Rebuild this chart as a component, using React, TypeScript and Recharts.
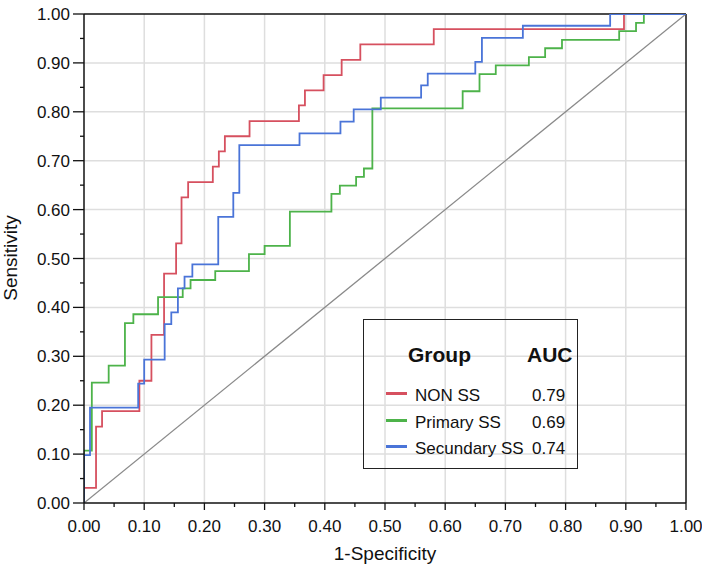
import React from 'react';
import { LineChart, Line, XAxis, YAxis, ReferenceLine } from 'recharts';

// ROC points: x = 1-specificity, y = sensitivity (corner points of each step)
const nonSsFpr = [0, 0, 0.02, 0.03, 0.092, 0.112, 0.133, 0.153, 0.162, 0.173, 0.214, 0.224, 0.234, 0.275, 0.357, 0.367, 0.398, 0.428, 0.459, 0.581, 0.897, 1];
const nonSsTpr = [0, 0.031, 0.156, 0.188, 0.25, 0.344, 0.469, 0.531, 0.625, 0.656, 0.688, 0.719, 0.75, 0.781, 0.813, 0.844, 0.875, 0.906, 0.938, 0.969, 1, 1];

const primaryFpr = [0, 0, 0.013, 0.041, 0.068, 0.082, 0.123, 0.164, 0.177, 0.218, 0.274, 0.3, 0.342, 0.411, 0.425, 0.452, 0.465, 0.479, 0.629, 0.657, 0.684, 0.739, 0.766, 0.794, 0.889, 0.917, 0.93, 1];
const primaryTpr = [0, 0.107, 0.246, 0.281, 0.368, 0.386, 0.421, 0.439, 0.456, 0.474, 0.509, 0.526, 0.596, 0.632, 0.649, 0.667, 0.684, 0.807, 0.842, 0.877, 0.895, 0.912, 0.93, 0.947, 0.965, 0.982, 1, 1];

const secundaryFpr = [0, 0, 0.01, 0.09, 0.1, 0.134, 0.145, 0.156, 0.167, 0.18, 0.223, 0.248, 0.258, 0.358, 0.426, 0.448, 0.493, 0.56, 0.571, 0.65, 0.661, 0.729, 0.874, 1];
const secundaryTpr = [0, 0.098, 0.195, 0.244, 0.293, 0.366, 0.39, 0.439, 0.463, 0.488, 0.585, 0.634, 0.732, 0.756, 0.78, 0.805, 0.829, 0.854, 0.878, 0.902, 0.951, 0.976, 1, 1];

// chance line
const refFpr = [0, 1];
const refTpr = [0, 1];

const groups = ['NON SS', 'Primary SS', 'Secundary SS'];
const aucValues = ['0.79', '0.69', '0.74'];
const colors = ['#d6505f', '#4db34a', '#4a74d8'];

// ticks every 0.05, labels on every 0.10
const tickValues = Array.from({ length: 21 }, (_, i) => i / 20);
const gridValues = Array.from({ length: 9 }, (_, i) => (i + 1) / 10);

const FONT = '"Liberation Sans", Arial, sans-serif';

const toPoints = (xs: number[], ys: number[]) => xs.map((x, i) => ({ x, y: ys[i] }));

const isMajor = (v: number) => Math.round(v * 20) % 2 === 0;

const XTick = ({ x, y, payload }: any) => {
  const major = isMajor(payload.value);
  return (
    <g>
      <line x1={x} x2={x} y1={y} y2={y + (major ? 7 : 4)} stroke="#111" strokeWidth={1.3} />
      {major && (
        <text x={x} y={y + 29} textAnchor="middle" fontSize={17} fill="#111" fontFamily={FONT}>
          {payload.value.toFixed(2)}
        </text>
      )}
    </g>
  );
};

const YTick = ({ x, y, payload }: any) => {
  const major = isMajor(payload.value);
  return (
    <g>
      <line x1={x - (major ? 11 : 4)} x2={x} y1={y} y2={y} stroke="#111" strokeWidth={1.3} />
      {major && (
        <text x={x - 14} y={y + 6} textAnchor="end" fontSize={17} fill="#111" fontFamily={FONT}>
          {payload.value.toFixed(2)}
        </text>
      )}
    </g>
  );
};

function RocLegend() {
  return (
    <div
      style={{
        position: 'absolute',
        left: 363,
        top: 319,
        width: 215,
        height: 150,
        border: '1.5px solid #222',
        boxSizing: 'border-box',
        fontFamily: FONT,
        color: '#111',
        lineHeight: 1,
      }}
    >
      <div style={{ position: 'absolute', left: 44, top: 24, fontSize: 21, fontWeight: 'bold' }}>Group</div>
      <div style={{ position: 'absolute', left: 163, top: 24, fontSize: 21, fontWeight: 'bold' }}>AUC</div>
      {groups.map((g, i) => (
        <div key={g} style={{ position: 'absolute', left: 0, top: 67 + i * 26.5, width: '100%', height: 18 }}>
          <div style={{ position: 'absolute', left: 22, top: 5, width: 21, height: 3, background: colors[i] }} />
          <div style={{ position: 'absolute', left: 51, top: 0, fontSize: 17, whiteSpace: 'nowrap' }}>{g}</div>
          <div style={{ position: 'absolute', left: 168, top: 0, fontSize: 17 }}>{aucValues[i]}</div>
        </div>
      ))}
    </div>
  );
}

export default function App() {
  const series = [
    toPoints(nonSsFpr, nonSsTpr),
    toPoints(primaryFpr, primaryTpr),
    toPoints(secundaryFpr, secundaryTpr),
  ];
  return (
    <div style={{ position: 'absolute', left: 0, top: 0, width: 702, height: 567, background: '#fff' }}>
      <LineChart width={702} height={567} margin={{ top: 14, right: 16, bottom: 0, left: 0 }}>
        <XAxis
          type="number"
          dataKey="x"
          domain={[0, 1]}
          ticks={tickValues}
          interval={0}
          height={64}
          tickLine={false}
          tickSize={0}
          tickMargin={0}
          tick={<XTick />}
          axisLine={{ stroke: '#111', strokeWidth: 1.5 }}
          allowDataOverflow
        />
        <YAxis
          type="number"
          domain={[0, 1]}
          ticks={tickValues}
          interval={0}
          width={84}
          tickLine={false}
          tickSize={0}
          tickMargin={0}
          tick={<YTick />}
          axisLine={{ stroke: '#111', strokeWidth: 1.5 }}
          allowDataOverflow
        />
        {gridValues.map((v) => (
          <ReferenceLine key={'gx' + v} x={v} stroke="#dedede" strokeWidth={1.5} />
        ))}
        {gridValues.map((v) => (
          <ReferenceLine key={'gy' + v} y={v} stroke="#dedede" strokeWidth={1.5} />
        ))}
        <ReferenceLine x={1} stroke="#111" strokeWidth={1.5} />
        <ReferenceLine y={1} stroke="#111" strokeWidth={1.5} />
        <Line
          data={toPoints(refFpr, refTpr)}
          dataKey="y"
          type="linear"
          stroke="#8a8a8a"
          strokeWidth={1.3}
          dot={false}
          isAnimationActive={false}
        />
        {series.map((d, i) => (
          <Line
            key={groups[i]}
            data={d}
            dataKey="y"
            name={groups[i]}
            type="stepAfter"
            stroke={colors[i]}
            strokeWidth={1.8}
            dot={false}
            isAnimationActive={false}
          />
        ))}
      </LineChart>
      <svg width={30} height={567} style={{ position: 'absolute', left: 0, top: 0 }}>
        <text
          x={17}
          y={258}
          transform="rotate(-90 17 258)"
          textAnchor="middle"
          fontFamily={FONT}
          fontSize={19}
          fill="#111"
        >
          Sensitivity
        </text>
      </svg>
      <div
        style={{
          position: 'absolute',
          left: 84,
          width: 602,
          top: 544,
          textAlign: 'center',
          fontFamily: FONT,
          fontSize: 19,
          lineHeight: 1,
          color: '#111',
        }}
      >
        1-Specificity
      </div>
      <RocLegend />
    </div>
  );
}
